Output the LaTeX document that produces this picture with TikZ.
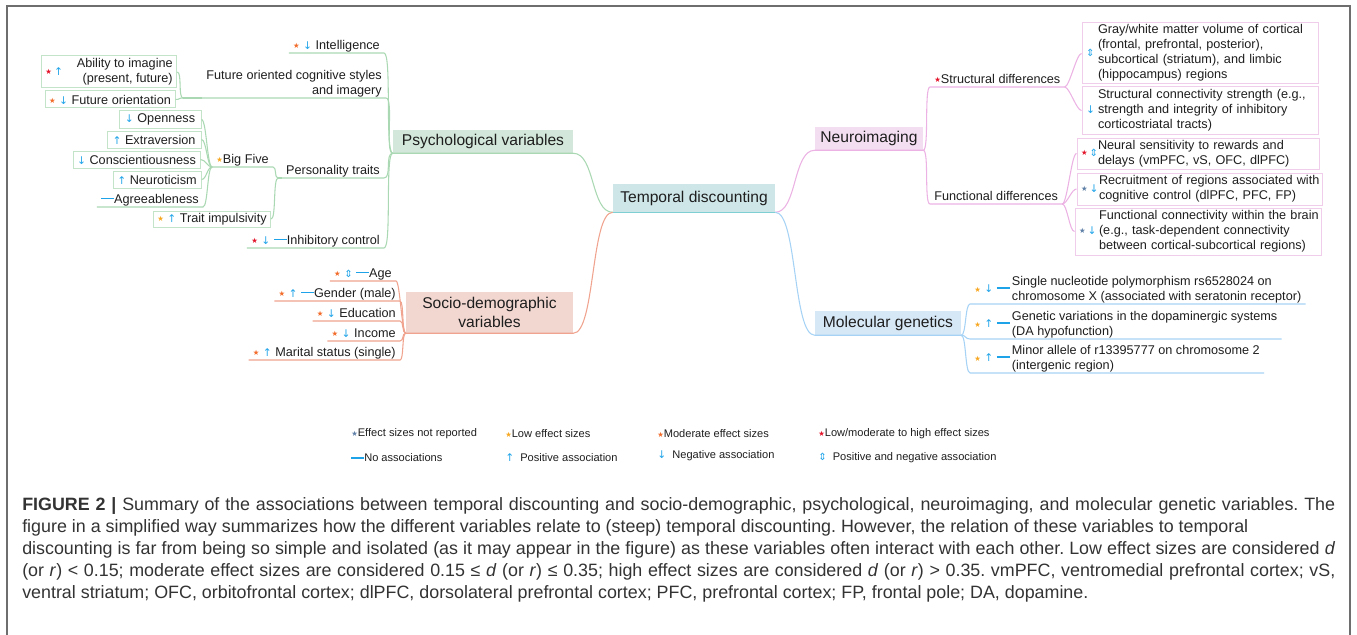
\documentclass[tikz,border=0pt]{standalone}
\usepackage{fontspec}
\setmainfont{Liberation Sans}
\newfontfamily\symf{DejaVu Sans}
\newdimen\pxu \pxu=0.75pt
\definecolor{icb}{HTML}{1FA3E8}
\definecolor{cR}{HTML}{E3152B}
\definecolor{cO}{HTML}{F26B2A}
\definecolor{cL}{HTML}{F7A823}
\definecolor{cS}{HTML}{5E7FA6}
\definecolor{gline}{HTML}{A9D8B2}
\definecolor{gbd}{HTML}{C3E4C8}
\definecolor{gfill}{HTML}{D3E8DA}
\definecolor{oline}{HTML}{F0A38F}
\definecolor{ofill}{HTML}{F2D7D0}
\definecolor{pline}{HTML}{EBB2E3}
\definecolor{pbd}{HTML}{F0CDEB}
\definecolor{pfill}{HTML}{F3DDF0}
\definecolor{bline}{HTML}{A6D3F5}
\definecolor{bfill}{HTML}{D6E7F6}
\definecolor{tfill}{HTML}{CEE6E8}
\definecolor{tline}{HTML}{7ECFD4}
\definecolor{framec}{HTML}{6E6E6E}
\definecolor{txt}{HTML}{1E1E1E}
\definecolor{captxt}{HTML}{333333}
\newcommand\fbig{\fontsize{11.7}{14.25}\selectfont}
\newcommand\fsm{\fontsize{9.5}{11.25}\selectfont}
\newcommand\fleg{\fontsize{8.3}{10}\selectfont}
\newcommand\fcap{\fontsize{13.4}{16.5}\selectfont}
\newcommand\fullline[1]{\makebox[1313\pxu][s]{#1}}
\newcommand\starc[1]{\raisebox{0.6pt}{\symf\fontsize{5.5}{5.5}\selectfont\textcolor{#1}{★}}}
\newcommand\kR{\starc{cR}}
\newcommand\kO{\starc{cO}}
\newcommand\kL{\starc{cL}}
\newcommand\kS{\starc{cS}}
\newcommand\aU{{\symf\fontsize{8}{8}\selectfont\textcolor{icb}{↑}}}
\newcommand\aD{{\symf\fontsize{8}{8}\selectfont\textcolor{icb}{↓}}}
\newcommand\aUD{{\symf\fontsize{7.5}{7.5}\selectfont\textcolor{icb}{⇕}}}
\newcommand\nd{\textcolor{icb}{\rule[0.3em]{13\pxu}{1.4pt}}}
\frenchspacing
\begin{document}
\begin{tikzpicture}[x=0.75pt,y=-0.75pt,
  every node/.style={text=txt},
  lchild/.style={anchor=south east,font=\fsm,inner xsep=3pt,inner ysep=0pt,text depth=2.6pt},
  rchild/.style={anchor=south west,font=\fsm,inner xsep=3pt,inner ysep=0pt,text depth=2.6pt},
  gbox/.style={draw=gbd,line width=0.75pt,font=\fsm,inner xsep=3pt,inner ysep=0pt},
  pbox/.style={draw=pbd,line width=0.75pt,font=\fsm,inner xsep=3pt,inner ysep=0pt,align=left},
  mainbox/.style={font=\fbig,inner sep=0pt,align=center},
  gln/.style={draw=gline,line width=0.8pt},
  oln/.style={draw=oline,line width=0.8pt},
  pln/.style={draw=pline,line width=0.8pt},
  bln/.style={draw=bline,line width=0.8pt},
  legtext/.style={font=\fleg,anchor=west,inner sep=0pt},
  captext/.style={font=\fcap,anchor=base west,inner sep=0pt,text=captxt}]
\useasboundingbox (0,0) rectangle (1357,635);
\draw[framec,line width=1.1pt] (7,640) -- (7,6) -- (1350,6) -- (1350,640);

% main boxes
\node[mainbox,fill=tfill,minimum width=162\pxu,minimum height=28\pxu] (td) at (694,198) {Temporal discounting};
\node[mainbox,fill=gfill,minimum width=180\pxu,minimum height=23\pxu] (psy) at (483,141.5) {Psychological variables};
\node[mainbox,fill=ofill,minimum width=167\pxu,minimum height=41\pxu] (soc) at (489.5,312.5) {Socio-demographic\\variables};
\node[mainbox,fill=pfill,minimum width=108\pxu,minimum height=23\pxu] (neu) at (869,138.5) {Neuroimaging};
\node[mainbox,fill=bfill,minimum width=146\pxu,minimum height=24\pxu] (mol) at (888,323) {Molecular genetics};

\draw[draw=tline,line width=0.9pt] (td.south west) -- (td.south east);
\draw[gln] (td.south west) .. controls +(-22,0) and +(22,0) .. (psy.south east) -- (psy.south west);
\draw[oln] (td.south west) .. controls +(-22,0) and +(22,0) .. (soc.south east) -- (soc.south west);
\draw[pln] (td.south east) .. controls +(22,0) and +(-22,0) .. (neu.south west) -- (neu.south east);
\draw[bln] (td.south east) .. controls +(22,0) and +(-22,0) .. (mol.south west) -- (mol.south east);

% psychological
\node[lchild] (intel) at (384,53) {\kO\ \aD\ Intelligence};
\node[lchild] (fut) at (386,98) {\begin{tabular}[b]{@{}r@{}}Future oriented cognitive styles\\and imagery\end{tabular}};
\node[lchild] (pers) at (384,178) {Personality traits};
\node[lchild] (inh) at (384,248) {\kR\ \aD\ \nd Inhibitory control};
\coordinate (ffork) at (183,98);
\coordinate (pfork) at (278,178);
\node[gbox,minimum width=132\pxu,minimum height=32\pxu] (abil) at (109,72) {\kR\,\aU\hspace{14\pxu}\begin{tabular}[c]{@{}r@{}}Ability to imagine\\(present, future)\end{tabular}};
\node[gbox,minimum width=130\pxu,minimum height=17\pxu] (fori) at (110,99.5) {\kO\ \aD\ Future orientation};
\node[lchild] (bf) at (273,167) {\kL Big Five};
\node[gbox,minimum width=112\pxu,minimum height=16\pxu] (trait) at (212,219) {\kL\ \aU\ Trait impulsivity};
\node[gbox,minimum width=82\pxu,minimum height=17\pxu] (open) at (160,119.5) {\aD\ Openness};
\node[gbox,minimum width=94\pxu,minimum height=17\pxu] (extra) at (154,139.5) {\aU\ Extraversion};
\node[gbox,minimum width=127\pxu,minimum height=17\pxu] (consc) at (136.5,159.5) {\aD\ Conscientiousness};
\node[gbox,minimum width=88\pxu,minimum height=17\pxu] (nrt) at (157,179.5) {\aU\ Neuroticism};
\node[lchild] (agree) at (203,207) {\nd Agreeableness};

\foreach \c in {intel,fut,pers,inh}
  \draw[gln] (psy.south west) .. controls +(-8,0) and +(8,0) .. (\c.south east) -- (\c.south west);
\draw[gln] (fut.south west) -- (ffork);
\draw[gln] (ffork) .. controls +(-5,0) and +(5,0) .. (abil.east);
\draw[gln] (ffork) .. controls +(-5,0) and +(5,0) .. (fori.east);
\draw[gln] (pers.south west) -- (pfork);
\draw[gln] (pfork) .. controls +(-4,0) and +(4,0) .. (bf.south east) -- (bf.south west);
\draw[gln] (pfork) .. controls +(-5,0) and +(5,0) .. (trait.east);
\foreach \c in {open,extra,consc,nrt}
  \draw[gln] (bf.south west) .. controls +(-5,0) and +(5,0) .. (\c.east);
\draw[gln] (bf.south west) .. controls +(-5,0) and +(5,0) .. (agree.south east) -- (agree.south west);

% socio-demographic
\node[lchild] (age) at (396,281) {\kO\ \aUD\ \nd Age};
\node[lchild] (gen) at (400,301) {\kO\ \aU\ \nd Gender (male)};
\node[lchild] (edu) at (400,321) {\kO\ \aD\ Education};
\node[lchild] (inc) at (400,341) {\kO\ \aD\ Income};
\node[lchild] (mar) at (400,360) {\kO\ \aU\ Marital status (single)};
\foreach \c in {age,gen,edu,inc,mar}
  \draw[oln] (soc.south west) .. controls +(-4,0) and +(4,0) .. (\c.south east) -- (\c.south west);

% neuroimaging
\node[rchild] (str) at (930,87) {\kR Structural differences};
\node[rchild] (fun) at (930,204) {Functional differences};
\node[pbox,text width=228\pxu,minimum height=61\pxu] (gw) at (1200,53.5) {\makebox[12\pxu][l]{\aUD}\begin{tabular}[c]{@{}l@{}}Gray/white matter volume of cortical\\(frontal, prefrontal, posterior),\\subcortical (striatum), and limbic\\(hippocampus) regions\end{tabular}};
\node[pbox,text width=228\pxu,minimum height=47\pxu] (sc) at (1200,110.5) {\makebox[12\pxu][l]{\aD}\begin{tabular}[c]{@{}l@{}}Structural connectivity strength (e.g.,\\strength and integrity of inhibitory\\corticostriatal tracts)\end{tabular}};
\node[pbox,text width=234\pxu,minimum height=31\pxu] (ns) at (1198,153.5) {\makebox[17\pxu][l]{\kR\,\aUD}\begin{tabular}[c]{@{}l@{}}Neural sensitivity to rewards and\\delays (vmPFC, vS, OFC, dlPFC)\end{tabular}};
\node[pbox,text width=237\pxu,minimum height=32\pxu] (rcr) at (1199.5,189) {\makebox[18\pxu][l]{\kS\,\aD}\begin{tabular}[c]{@{}l@{}}Recruitment of regions associated with\\cognitive control (dlPFC, PFC, FP)\end{tabular}};
\node[pbox,text width=238\pxu,minimum height=47\pxu] (fc) at (1198,231.5) {\makebox[20\pxu][l]{\kS\,\aD}\begin{tabular}[c]{@{}l@{}}Functional connectivity within the brain\\(e.g., task-dependent connectivity\\between cortical-subcortical regions)\end{tabular}};
\foreach \c in {str,fun}
  \draw[pln] (neu.south east) .. controls +(6,0) and +(-6,0) .. (\c.south west) -- (\c.south east);
\foreach \c in {gw,sc}
  \draw[pln] (str.south east) .. controls +(5,0) and +(-5,0) .. (\c.west);
\foreach \c in {ns,rcr,fc}
  \draw[pln] (fun.south east) .. controls +(5,0) and +(-5,0) .. (\c.west);

% molecular genetics
\node[rchild] (snp) at (970,304) {\raisebox{5.6pt}{\kL\ \aD\ \nd}\,\begin{tabular}[b]{@{}l@{}}Single nucleotide polymorphism rs6528024 on\\chromosome X (associated with seratonin receptor)\end{tabular}};
\node[rchild] (gvar) at (970,339) {\raisebox{5.6pt}{\kL\ \aU\ \nd}\,\begin{tabular}[b]{@{}l@{}}Genetic variations in the dopaminergic systems\\(DA hypofunction)\end{tabular}};
\node[rchild] (mal) at (970,373) {\raisebox{5.6pt}{\kL\ \aU\ \nd}\,\begin{tabular}[b]{@{}l@{}}Minor allele of r13395777 on chromosome 2\\(intergenic region)\end{tabular}};
\foreach \c in {snp,gvar,mal}
  \draw[bln] (mol.south east) .. controls +(5,0) and +(-5,0) .. (\c.south west) -- (\c.south east);

% legend
\node[legtext] (l1) at (351,434) {\kS Effect sizes not reported};
\node[legtext] (l2) at (505,434) {\kL Low effect sizes};
\node[legtext] (l3) at (657,434) {\kO Moderate effect sizes};
\node[legtext] (l4) at (818,434) {\kR Low/moderate to high effect sizes};
\node[legtext] (l5) at (351,458) {\nd No associations};
\node[legtext] (l6) at (505,458) {\aU\ \ Positive association};
\node[legtext] (l7) at (657,456) {\aD\ \ Negative association};
\node[legtext] (l8) at (818,458) {\aUD\ \ Positive and negative association};

% caption
\node[captext] (c1) at (22,510) {\fullline{\textbf{FIGURE 2 |} Summary of the associations between temporal discounting and socio-demographic, psychological, neuroimaging, and molecular genetic variables. The}};
\node[captext] (c2) at (22,532) {figure in a simplified way summarizes how the different variables relate to (steep) temporal discounting. However, the relation of these variables to temporal};
\node[captext] (c3) at (22,554) {\fullline{discounting is far from being so simple and isolated (as it may appear in the figure) as these variables often interact with each other. Low effect sizes are considered \textit{d}}};
\node[captext] (c4) at (22,576) {\fullline{(or \textit{r}) < 0.15; moderate effect sizes are considered 0.15 ≤ \textit{d} (or \textit{r}) ≤ 0.35; high effect sizes are considered \textit{d} (or \textit{r}) > 0.35. vmPFC, ventromedial prefrontal cortex; vS,}};
\node[captext] (c5) at (22,598) {ventral striatum; OFC, orbitofrontal cortex; dlPFC, dorsolateral prefrontal cortex; PFC, prefrontal cortex; FP, frontal pole; DA, dopamine.};
\end{tikzpicture}
\end{document}
